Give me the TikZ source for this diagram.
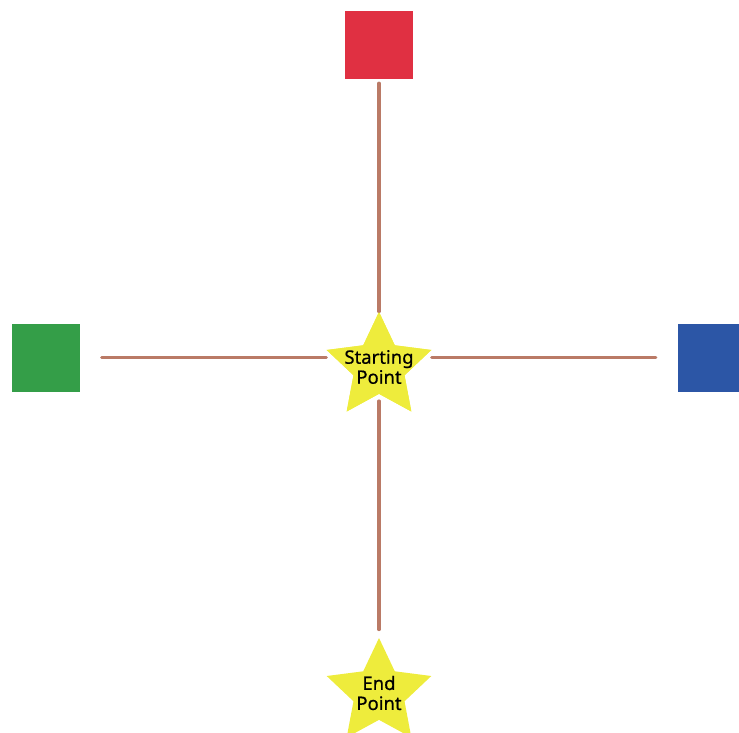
\documentclass[tikz,border=0pt]{standalone}
\usepackage{fontspec}
\setmainfont{Noto Sans}
\newfontfamily\labelfont[FakeBold=0.6]{Noto Sans}
\usetikzlibrary{shapes.geometric}
\definecolor{cred}{RGB}{224,48,66}
\definecolor{cgreen}{RGB}{52,158,72}
\definecolor{cblue}{RGB}{44,86,166}
\definecolor{cyel}{RGB}{238,236,60}
\definecolor{cline}{RGB}{186,122,102}
\tikzset{
  sq/.style={rectangle, minimum size=68pt, inner sep=0pt, draw=none},
  starnode/.style={star, star points=5, star point ratio=2.05, minimum size=110pt, inner sep=0pt, fill=cyel, draw=none},
  txt/.style={font=\labelfont\fontsize{18.5pt}{20pt}\selectfont, align=center, text=black, inner sep=0pt},
  conn/.style={draw=cline, line width=3.2pt, line cap=round}
}
\begin{document}
\begin{tikzpicture}[x=1pt,y=1pt]
\useasboundingbox (0,0) rectangle (739,-733);
\clip (0,0) rectangle (739,-733);
\node[sq, fill=cred] (red) at (379,-45) {};
\node[sq, fill=cgreen] (green) at (45.5,-357.5) {};
\node[sq, fill=cblue] (blue) at (712,-357.5) {};
\node[starnode] (start) at (379,-367) {};
\node[starnode] (end) at (379,-693) {};
\draw[conn, shorten <=4pt] (red.south) -- (start.north);
\draw[conn, shorten <=22pt] (green.east) -- (green.east -| start.outer point 2);
\draw[conn, shorten >=22pt] (start.outer point 5 |- blue.west) -- (blue.west);
\draw[conn, shorten <=7pt, shorten >=8pt] (start.south) -- (end.north);
\node[starnode] at (start.center) {};
\node[txt] (starttxt) at (start.center) {Starting\\Point};
\node[txt] (endtxt) at (end.center) {End\\Point};
\end{tikzpicture}
\end{document}
